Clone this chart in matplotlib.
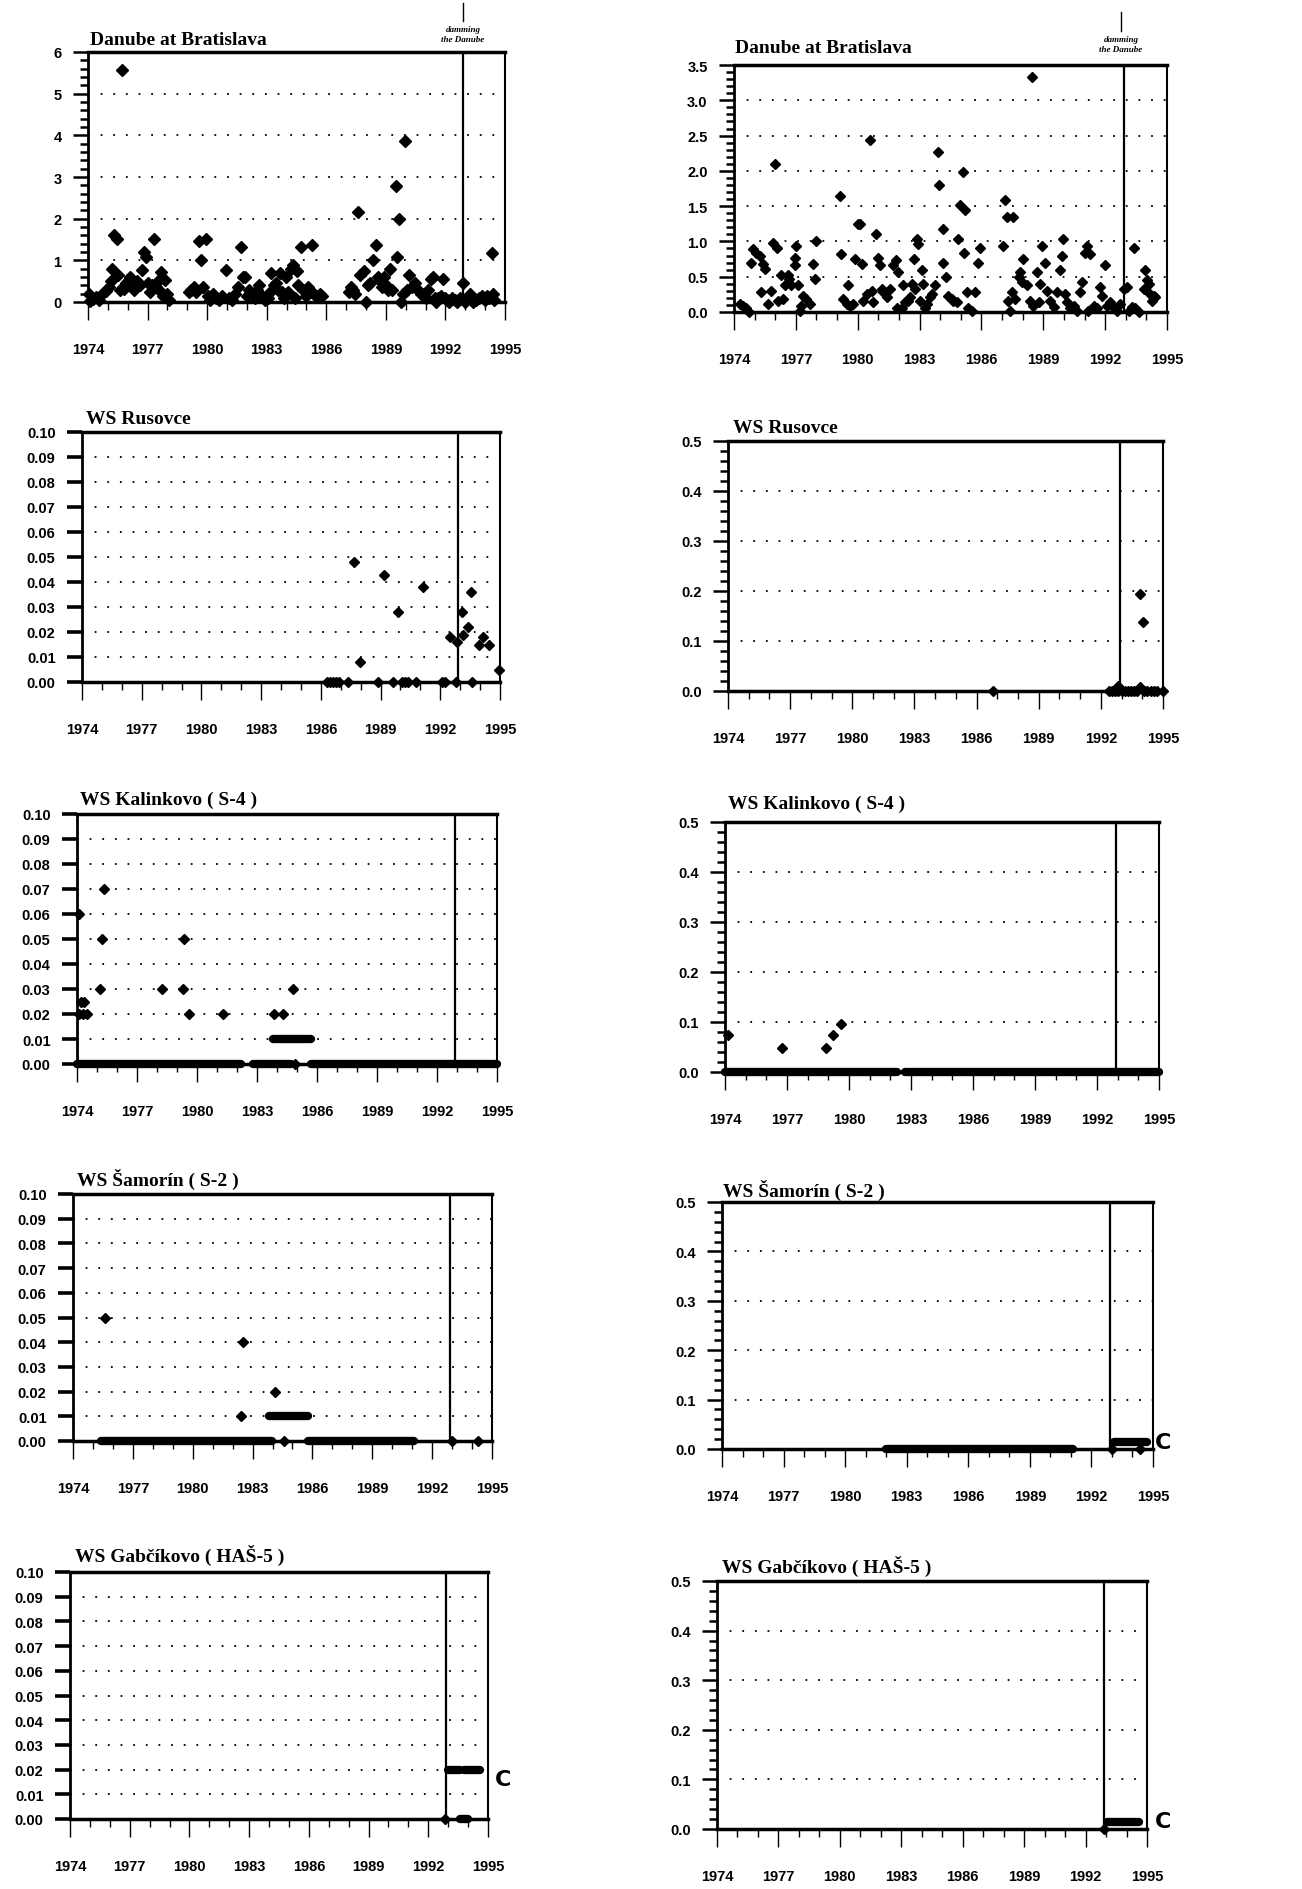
import matplotlib
matplotlib.use("Agg")
import matplotlib.pyplot as plt
from matplotlib import font_manager
from matplotlib.ticker import MultipleLocator, FixedLocator, FormatStrFormatter

# ---------------------------------------------------------------- data
# Danube at Bratislava (left column, 0-6)
bra_l_year = [1974.05, 1974.10, 1974.25, 1974.40, 1974.55, 1974.75, 1974.90, 1975.05, 1975.15, 1975.20,
              1975.30, 1975.47, 1975.50, 1975.60, 1975.71, 1975.80, 1975.90, 1976.00, 1976.10, 1976.20,
              1976.30, 1976.45, 1976.60, 1976.72, 1976.80, 1976.90, 1977.00, 1977.10, 1977.20, 1977.31,
              1977.40, 1977.50, 1977.60, 1977.70, 1977.80, 1977.90, 1978.00, 1978.10,
              1979.07, 1979.20, 1979.35, 1979.45, 1979.58, 1979.70, 1979.80, 1979.95, 1980.05, 1980.15,
              1980.30, 1980.45, 1980.60, 1980.75, 1980.96, 1981.10, 1981.25, 1981.40, 1981.55, 1981.68,
              1981.80, 1981.90, 1982.00, 1982.10, 1982.25, 1982.40, 1982.50, 1982.60, 1982.75, 1982.90,
              1983.05, 1983.15, 1983.24, 1983.35, 1983.45, 1983.55, 1983.65, 1983.75, 1983.85, 1983.95,
              1984.05, 1984.20, 1984.30, 1984.40, 1984.50, 1984.60, 1984.74, 1984.85, 1985.00, 1985.10,
              1985.20, 1985.29, 1985.40, 1985.50, 1985.60, 1985.70, 1985.80,
              1987.14, 1987.25, 1987.35, 1987.45, 1987.61, 1987.70, 1987.90, 1988.00, 1988.10, 1988.20,
              1988.35, 1988.52, 1988.60, 1988.70, 1988.80, 1988.90, 1989.00, 1989.10, 1989.20, 1989.30,
              1989.49, 1989.54, 1989.66, 1989.75, 1989.85, 1989.96, 1990.05, 1990.15, 1990.30, 1990.45,
              1990.60, 1990.75, 1990.90, 1991.00, 1991.10, 1991.25, 1991.35, 1991.45, 1991.55, 1991.65,
              1991.80, 1991.90, 1992.00, 1992.10, 1992.20, 1992.35, 1992.50, 1992.60, 1992.75, 1992.90,
              1993.00, 1993.10, 1993.25, 1993.40, 1993.55, 1993.70, 1993.85, 1994.00, 1994.10, 1994.20,
              1994.33, 1994.40, 1994.45]
bra_l_val = [0.20, 0.02, 0.08, 0.12, 0.04, 0.22, 0.26, 0.36, 0.50, 0.80,
             1.62, 1.52, 0.64, 0.30, 5.56, 0.32, 0.45, 0.50, 0.60, 0.40,
             0.30, 0.50, 0.42, 0.76, 1.20, 1.08, 0.45, 0.25, 0.40, 1.52,
             0.35, 0.50, 0.30, 0.72, 0.15, 0.52, 0.20, 0.05,
             0.24, 0.30, 0.35, 0.25, 1.46, 1.00, 0.35, 1.52, 0.15, 0.05,
             0.20, 0.10, 0.05, 0.15, 0.76, 0.10, 0.05, 0.20, 0.35, 1.32,
             0.60, 0.60, 0.15, 0.30, 0.20, 0.10, 0.30, 0.40, 0.15, 0.05,
             0.10, 0.25, 0.70, 0.40, 0.45, 0.30, 0.70, 0.25, 0.10, 0.60,
             0.25, 0.80, 0.90, 0.10, 0.75, 0.40, 1.32, 0.30, 0.15, 0.35,
             0.25, 1.38, 0.20, 0.15, 0.12, 0.20, 0.15,
             0.24, 0.35, 0.30, 0.20, 2.16, 0.65, 0.75, 0.00, 0.40, 0.45,
             1.00, 1.36, 0.60, 0.50, 0.35, 0.60, 0.40, 0.30, 0.80, 0.30,
             2.78, 1.08, 2.00, 0.00, 0.20, 3.86, 0.30, 0.65, 0.35, 0.45,
             0.30, 0.20, 0.20, 0.10, 0.30, 0.55, 0.60, 0.10, 0.00, 0.10,
             0.15, 0.55, 0.10, 0.05, 0.00, 0.10, 0.05, 0.00, 0.10, 0.45,
             0.00, 0.10, 0.20, 0.00, 0.05, 0.10, 0.15, 0.05, 0.15, 0.10,
             1.18, 0.20, 0.05]

# Danube at Bratislava (right column, 0-3.5)
bra_r_year = [1974.28, 1974.44, 1974.60, 1974.73, 1974.84, 1974.92, 1975.08, 1975.25, 1975.33, 1975.40,
              1975.50, 1975.65, 1975.80, 1975.90, 1976.00, 1976.10, 1976.15, 1976.30, 1976.40, 1976.48,
              1976.60, 1976.68, 1976.76, 1976.95, 1976.98, 1977.03, 1977.10, 1977.18, 1977.27, 1977.35,
              1977.50, 1977.68, 1977.84, 1977.92, 1978.00,
              1979.13, 1979.20, 1979.30, 1979.46, 1979.54, 1979.62, 1979.78, 1979.86, 1980.02, 1980.10,
              1980.23, 1980.26, 1980.43, 1980.60, 1980.67, 1980.75, 1980.87, 1981.00, 1981.07, 1981.16,
              1981.24, 1981.40, 1981.56, 1981.72, 1981.88, 1981.96, 1981.90, 1982.13, 1982.20, 1982.29,
              1982.45, 1982.53, 1982.61, 1982.78, 1982.74, 1982.86, 1982.94, 1983.02, 1983.10, 1983.18,
              1983.26, 1983.34, 1983.50, 1983.58, 1983.75, 1983.90, 1983.96, 1984.12, 1984.14, 1984.30,
              1984.38, 1984.55, 1984.63, 1984.80, 1984.88, 1984.96, 1985.12, 1985.20, 1985.14, 1985.28,
              1985.36, 1985.53, 1985.69, 1985.85, 1985.93,
              1987.07, 1987.15, 1987.23, 1987.31, 1987.39, 1987.47, 1987.55, 1987.63, 1987.80, 1987.88,
              1987.96, 1988.04, 1988.20, 1988.36, 1988.44, 1988.52, 1988.69, 1988.77, 1988.85, 1988.93,
              1989.10, 1989.18, 1989.33, 1989.50, 1989.66, 1989.82, 1989.90, 1989.98, 1990.06, 1990.14,
              1990.30, 1990.47, 1990.63, 1990.80, 1990.88, 1991.03, 1991.11, 1991.27, 1991.15, 1991.44,
              1991.60, 1991.76, 1991.84, 1992.00, 1992.08, 1992.25, 1992.41, 1992.57, 1992.73, 1992.90,
              1993.06, 1993.14, 1993.30, 1993.38, 1993.46, 1993.62, 1993.87, 1993.95, 1994.03, 1994.11,
              1994.19, 1994.27, 1994.35, 1994.43]
bra_r_val = [0.12, 0.09, 0.05, 0.00, 0.70, 0.89, 0.84, 0.80, 0.28, 0.68,
             0.61, 0.12, 0.30, 0.98, 2.10, 0.91, 0.16, 0.52, 0.19, 0.38,
             0.52, 0.47, 0.38, 0.77, 0.66, 0.94, 0.38, 0.02, 0.09, 0.23,
             0.19, 0.12, 0.68, 0.47, 1.00,
             1.64, 0.82, 0.19, 0.12, 0.38, 0.09, 0.12, 0.75, 1.24, 1.24,
             0.68, 0.16, 0.26, 2.44, 0.30, 0.14, 1.10, 0.77, 0.66, 0.33,
             0.28, 0.21, 0.33, 0.66, 0.73, 0.56, 0.05, 0.05, 0.38, 0.14,
             0.16, 0.21, 0.40, 0.33, 0.75, 1.03, 0.96, 0.16, 0.59, 0.40,
             0.05, 0.12, 0.21, 0.26, 0.38, 2.27, 1.80, 1.17, 0.70, 0.49,
             0.23, 0.19, 0.16, 0.14, 1.03, 1.52, 1.99, 1.45, 0.84, 0.28,
             0.05, 0.02, 0.28, 0.70, 0.91,
             0.94, 1.59, 1.34, 0.16, 0.02, 0.28, 1.34, 0.19, 0.49, 0.56,
             0.42, 0.75, 0.38, 0.16, 3.33, 0.09, 0.56, 0.14, 0.40, 0.94,
             0.70, 0.30, 0.16, 0.07, 0.28, 0.59, 0.80, 1.03, 0.26, 0.14,
             0.05, 0.09, 0.02, 0.28, 0.42, 0.84, 0.94, 0.82, 0.02, 0.09,
             0.05, 0.35, 0.23, 0.66, 0.09, 0.14, 0.05, 0.02, 0.12, 0.33,
             0.35, 0.02, 0.07, 0.91, 0.05, 0.00, 0.33, 0.59, 0.45, 0.40,
             0.26, 0.16, 0.23, 0.21]

# WS Rusovce
rus_l_year = [1987.68, 1987.98, 1989.16, 1989.90, 1991.15, 1992.50, 1992.84, 1993.09, 1993.16, 1993.38,
              1993.55, 1993.96, 1994.13, 1994.43, 1994.93,
              1986.30, 1986.45, 1986.60, 1986.75, 1986.90, 1987.35, 1988.85, 1989.60, 1990.10, 1990.25,
              1990.40, 1990.80, 1992.10, 1992.25, 1992.80, 1993.60]
rus_l_val = [0.048, 0.008, 0.043, 0.028, 0.038, 0.018, 0.016, 0.028, 0.019, 0.022,
             0.036, 0.015, 0.018, 0.015, 0.005,
             0.0, 0.0, 0.0, 0.0, 0.0, 0.0, 0.0, 0.0, 0.0, 0.0,
             0.0, 0.0, 0.0, 0.0, 0.0, 0.0]
rus_r_year = [1992.81, 1993.90, 1994.03, 1993.90,
              1986.80, 1992.40, 1992.55, 1992.70, 1992.85, 1993.00, 1993.15, 1993.30, 1993.45, 1993.60,
              1993.75, 1994.10, 1994.25, 1994.40, 1994.55, 1994.70, 1995.00]
rus_r_val = [0.011, 0.194, 0.139, 0.008,
             0.0, 0.0, 0.0, 0.0, 0.0, 0.0, 0.0, 0.0, 0.0, 0.0,
             0.0, 0.0, 0.0, 0.0, 0.0, 0.0, 0.0]

# WS Kalinkovo (S-4)
kal_l_year = [1974.12, 1974.20, 1974.37, 1974.10, 1974.30, 1974.50, 1975.37, 1975.25, 1975.15, 1978.25,
              1979.29, 1979.34, 1979.62, 1981.32, 1983.87, 1984.30, 1984.80, 1984.90]
kal_l_val = [0.060, 0.025, 0.025, 0.020, 0.020, 0.020, 0.070, 0.050, 0.030, 0.030,
             0.030, 0.050, 0.020, 0.020, 0.020, 0.020, 0.030, 0.000]
kal_l_runs = [(1974.0, 1982.2, 0.0), (1982.8, 1984.7, 0.0), (1985.7, 1995.0, 0.0), (1983.8, 1985.7, 0.010)]
kal_r_year = [1974.16, 1976.75, 1978.90, 1979.23, 1979.62]
kal_r_val = [0.074, 0.049, 0.049, 0.074, 0.097]
kal_r_runs = [(1974.0, 1982.3, 0.0), (1982.7, 1995.0, 0.0)]

# WS Šamorín (S-2)
sam_l_year = [1975.59, 1982.53, 1984.12, 1982.40, 1984.60, 1993.00, 1994.30]
sam_l_val = [0.050, 0.040, 0.020, 0.010, 0.0, 0.0, 0.0]
sam_l_runs = [(1975.4, 1983.95, 0.0), (1985.8, 1991.1, 0.0), (1983.8, 1985.8, 0.010)]
sam_r_year = [1993.00, 1994.35]
sam_r_val = [0.0, 0.0]
sam_r_runs = [(1982.0, 1991.1, 0.0), (1993.1, 1994.7, 0.015)]

# WS Gabčíkovo (HAŠ-5)
gab_l_year = [1992.85]
gab_l_val = [0.0]
gab_l_runs = [(1993.0, 1993.6, 0.020), (1993.8, 1994.6, 0.020), (1993.6, 1994.0, 0.0)]
gab_r_year = [1992.90]
gab_r_val = [0.0]
gab_r_runs = [(1993.05, 1994.6, 0.015)]

year_labels = [1974, 1977, 1980, 1983, 1986, 1989, 1992, 1995]
damming_year = 1992.9

# ---------------------------------------------------------------- fonts
def available(name):
    try:
        font_manager.findfont(name, fallback_to_default=False)
        return True
    except Exception:
        return False

if available("Liberation Sans Narrow"):
    TICK_FAMILY, TICK_SIZE = "Liberation Sans Narrow", 12.5
else:
    TICK_FAMILY, TICK_SIZE = "Liberation Sans", 10.5
SERIF = "Liberation Serif"

plt.rcParams["font.family"] = [TICK_FAMILY, "DejaVu Sans"]
plt.rcParams["font.weight"] = "bold"

W, H = 1302, 1890
fig = plt.figure(figsize=(W / 100, H / 100), dpi=100)
fig.patch.set_facecolor("white")


def fx(px):
    return px / W


def fy(py):
    return 1 - py / H


def panel(box, ymax, major, minor, fmt, title, title_pos, years, vals,
          runs=(), ms=5.5, heavy_major=False):
    l, t, r, b = box
    ax = fig.add_axes([fx(l), fy(b), (r - l) / W, (b - t) / H])
    ax.set_xlim(1974, 1995)
    ax.set_ylim(0, ymax)

    # dotted horizontal guides at the labelled levels
    n = int(round(ymax / major))
    for k in range(1, n):
        ax.axhline(k * major, color="black", lw=1.3, ls=(0, (1, 6)), zorder=1)

    # dam closure
    ax.axvline(damming_year, color="black", lw=1.6, zorder=2)

    for (x0, x1, v) in runs:
        ax.plot([x0, x1], [v, v], color="black", lw=6.0, solid_capstyle="round",
                zorder=4, clip_on=False)
    ax.plot(years, vals, ls="none", marker="D", ms=ms, color="black",
            zorder=5, clip_on=False)

    # axes frame
    ax.spines["top"].set_linewidth(2.5)
    ax.spines["left"].set_linewidth(2.0)
    ax.spines["bottom"].set_linewidth(2.5)
    ax.spines["right"].set_linewidth(1.5)

    ax.xaxis.set_major_locator(FixedLocator(year_labels))
    ax.xaxis.set_minor_locator(MultipleLocator(1))
    ax.set_xticklabels([str(y) for y in year_labels])
    ax.tick_params(axis="x", which="major", direction="out", length=13, width=1.0,
                   pad=16, labelsize=TICK_SIZE)
    ax.tick_params(axis="x", which="minor", direction="out", length=6, width=1.0)

    ax.yaxis.set_major_locator(MultipleLocator(major))
    ax.yaxis.set_major_formatter(FormatStrFormatter(fmt))
    if minor:
        ax.yaxis.set_minor_locator(MultipleLocator(minor))
    ax.tick_params(axis="y", which="major", direction="out",
                   length=11, width=2.6 if heavy_major else 1.8,
                   pad=8, labelsize=TICK_SIZE)
    ax.tick_params(axis="y", which="minor", direction="out", length=6, width=1.8)
    for lab in ax.get_xticklabels() + ax.get_yticklabels():
        lab.set_fontweight("bold")

    fig.text(fx(title_pos[0]), fy(title_pos[1]), title, family=SERIF,
             weight="bold", fontsize=14, ha="left", va="baseline")
    return ax


def damming_note(x, y_line_top, y_line_bot, y_text):
    fig.add_artist(plt.Line2D([fx(x), fx(x)], [fy(y_line_top), fy(y_line_bot)],
                              color="black", lw=1.0))
    fig.text(fx(x), fy(y_text), "damming\nthe Danube", family=SERIF, style="italic",
             fontsize=6.5, ha="center", va="top", linespacing=1.3)


panel((88, 53, 505, 303), 6, 1, 0.2, "%.0f", "Danube at Bratislava", (90, 45),
      bra_l_year, bra_l_val, ms=6.0)
panel((734, 66, 1167, 313), 3.5, 0.5, 0.1, "%.1f", "Danube at Bratislava", (735, 53),
      bra_r_year, bra_r_val, ms=5.5)
damming_note(463, 4, 22, 26)
damming_note(1121, 13, 32, 36)

panel((82, 433, 500, 683), 0.10, 0.01, None, "%.2f", "WS Rusovce", (86, 424),
      rus_l_year, rus_l_val, heavy_major=True)
panel((728, 442, 1163, 692), 0.5, 0.1, 0.02, "%.1f", "WS Rusovce", (733, 433),
      rus_r_year, rus_r_val)

panel((77, 815, 497, 1065), 0.10, 0.01, None, "%.2f", "WS Kalinkovo ( S-4 )", (80, 805),
      kal_l_year, kal_l_val, runs=kal_l_runs, heavy_major=True)
panel((725, 823, 1159, 1073), 0.5, 0.1, 0.02, "%.1f", "WS Kalinkovo ( S-4 )", (728, 809),
      kal_r_year, kal_r_val, runs=kal_r_runs)

panel((73, 1195, 492, 1442), 0.10, 0.01, None, "%.2f", "WS Šamorín ( S-2 )", (77, 1186),
      sam_l_year, sam_l_val, runs=sam_l_runs, heavy_major=True)
panel((722, 1203, 1153, 1450), 0.5, 0.1, 0.02, "%.1f", "WS Šamorín ( S-2 )", (723, 1197),
      sam_r_year, sam_r_val, runs=sam_r_runs)

panel((70, 1573, 488, 1820), 0.10, 0.01, None, "%.2f", "WS Gabčíkovo ( HAŠ-5 )", (75, 1562),
      gab_l_year, gab_l_val, runs=gab_l_runs, heavy_major=True)
panel((717, 1582, 1147, 1830), 0.5, 0.1, 0.02, "%.1f", "WS Gabčíkovo ( HAŠ-5 )", (722, 1573),
      gab_r_year, gab_r_val, runs=gab_r_runs)

# bracket marks beside the post-closure series
for (px, py) in [(1163, 1443), (503, 1780), (1163, 1822)]:
    fig.text(fx(px), fy(py), "C", family="DejaVu Sans", weight="bold",
             fontsize=16, ha="center", va="center")

fig.savefig("out.png", dpi=100, facecolor="white")
